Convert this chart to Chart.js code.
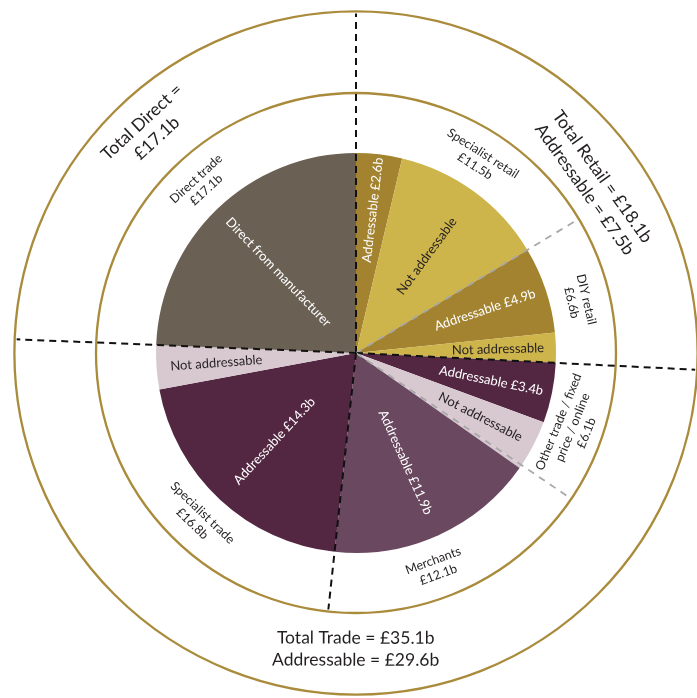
<!DOCTYPE html>
<html>
<head>
<meta charset="utf-8">
<script src="https://cdn.jsdelivr.net/npm/chart.js@4/dist/chart.umd.min.js"></script>
<style>
  html, body { margin: 0; padding: 0; background: #ffffff; }
  #wrap { width: 697px; height: 698px; }
</style>
</head>
<body>
<div id="wrap"><canvas id="c" width="697" height="698"></canvas></div>
<script>
// Market segments, clockwise from 12 o'clock (£bn)
const segmentNames = [['Specialist retail'], ['DIY retail'], ['Other trade / fixed', 'price / online'], ['Merchants'], ['Specialist trade'], ['Direct trade']];
const segmentTotals = [11.5, 6.6, 6.1, 12.1, 16.8, 17.1];

// Slices within each segment (£bn)
const sliceLabels = ['Addressable £2.6b', 'Not addressable', 'Addressable £4.9b', 'Not addressable', 'Addressable £3.4b', 'Not addressable', '', 'Addressable £11.9b', 'Addressable £14.3b', 'Not addressable', 'Direct from manufacturer'];
const sliceValues = [2.6, 8.9, 4.9, 1.7, 3.4, 2.7, 0.2, 11.9, 14.3, 2.5, 17.1];
const sliceSegment = [0, 0, 1, 1, 2, 2, 3, 3, 4, 4, 5];
const sliceKind = ['addr', 'not', 'addr', 'not', 'addr', 'not', 'not', 'addr', 'addr', 'not', 'direct'];

// Channel totals and the segments they cover
const channelLines = [['Total Retail = £18.1b', 'Addressable = £7.5b'], ['Total Trade = £35.1b', 'Addressable = £29.6b'], ['Total Direct =', '£17.1b']];
const channelSegments = [[0, 1], [2, 3, 4], [5]];

// ---- styling ----
const palette = [
  { addr: '#A3832F', not: '#CDB44B' },
  { addr: '#A3832F', not: '#CDB44B' },
  { addr: '#532742', not: '#D8C9D0' },
  { addr: '#6A4960', not: '#D8C9D0' },
  { addr: '#532742', not: '#D8C9D0' },
  { direct: '#6A6054' }
];
const sliceColors = sliceKind.map((k, i) => palette[sliceSegment[i]][k]);
const textDark = '#231F20';
const ringColor = '#A98B3B';
const FONT = 'Lato, "Open Sans", sans-serif';

const layout = {
  sliceRadius: [0.72, 0.6, 0.68, 0.71, 0.69, 0.7, 0, 0.6, 0.6, 0.7, 0.56],
  segRadius: 1.145,
  segAngleShift: [3, 1, 0.5, 4.5, -5.4, 1.3],
  segRotShift: [0, 0, 3, 0, 0, 0],
  chanRadius: [1.46, 1.48, 1.52],
  chanAngleShift: [8, -2.5, 1],
  innerRing: 1.3,
  outerRing: 1.708,
  // boundary at start of each segment: [colour, reach]
  boundaries: [['#111', 'outer'], ['#A8A8A8', 'inner'], ['#111', 'outer'], ['#A8A8A8', 'inner'], ['#111', 'inner'], ['#111', 'outer']]
};

function drawLines(ctx, lines, x, y, rot, font, color, lh) {
  ctx.save();
  ctx.translate(x, y);
  ctx.rotate(rot);
  ctx.font = font;
  ctx.fillStyle = color;
  ctx.textAlign = 'center';
  ctx.textBaseline = 'middle';
  const off = (lines.length - 1) * lh / 2;
  lines.forEach((t, i) => ctx.fillText(t, 0, i * lh - off));
  ctx.restore();
}

const annotate = {
  id: 'annotate',
  afterDatasetsDraw(chart) {
    const ctx = chart.ctx;
    const arcs = chart.getDatasetMeta(0).data;
    const cx = arcs[0].x, cy = arcs[0].y, R = arcs[0].outerRadius;
    const deg = Math.PI / 180;

    // rings
    ctx.save();
    ctx.strokeStyle = ringColor;
    ctx.lineWidth = 2.3;
    [layout.innerRing, layout.outerRing].forEach(f => {
      ctx.beginPath();
      ctx.arc(cx, cy, R * f, 0, Math.PI * 2);
      ctx.stroke();
    });
    ctx.restore();

    // segment boundaries
    const segFirst = [], segLast = [];
    sliceSegment.forEach((s, i) => { if (segFirst[s] === undefined) segFirst[s] = i; segLast[s] = i; });
    ctx.save();
    segFirst.forEach((i, s) => {
      const a = arcs[i].startAngle;
      const [col, reach] = layout.boundaries[s];
      const r = R * (reach === 'outer' ? layout.outerRing : layout.innerRing) - 2;
      ctx.strokeStyle = col;
      ctx.lineWidth = col === '#111' ? 2 : 1.8;
      ctx.setLineDash(col === '#111' ? [7, 5] : [7, 6]);
      ctx.beginPath();
      ctx.moveTo(cx, cy);
      ctx.lineTo(cx + r * Math.cos(a), cy + r * Math.sin(a));
      ctx.stroke();
    });
    ctx.restore();

    // slice labels, reading along the radius
    arcs.forEach((arc, i) => {
      if (!sliceLabels[i]) return;
      const a = (arc.startAngle + arc.endAngle) / 2;
      const r = R * layout.sliceRadius[i];
      const x = cx + r * Math.cos(a), y = cy + r * Math.sin(a);
      const theta = a + Math.PI / 2; // from 12 o'clock
      const rot = theta < Math.PI ? a : a + Math.PI;
      const col = sliceKind[i] === 'not' ? textDark : '#ffffff';
      drawLines(ctx, [sliceLabels[i]], x, y, rot, '13px ' + FONT, col, 15);
    });

    // segment labels, tangential
    segmentNames.forEach((lines, s) => {
      const a = (arcs[segFirst[s]].startAngle + arcs[segLast[s]].endAngle) / 2 + layout.segAngleShift[s] * deg;
      const r = R * layout.segRadius;
      const x = cx + r * Math.cos(a), y = cy + r * Math.sin(a);
      let theta = (a + Math.PI / 2) % (2 * Math.PI);
      const bottom = theta > Math.PI / 2 && theta < 1.5 * Math.PI;
      const rot = (bottom ? a - Math.PI / 2 : a + Math.PI / 2) + layout.segRotShift[s] * deg;
      const all = lines.concat(['£' + segmentTotals[s].toFixed(1).replace(/\.0$/, '') + 'b']);
      drawLines(ctx, all, x, y, rot, '12.5px ' + FONT, textDark, 15);
    });

    // channel totals
    channelLines.forEach((lines, c) => {
      const segs = channelSegments[c];
      const a0 = arcs[segFirst[segs[0]]].startAngle;
      const a1 = arcs[segLast[segs[segs.length - 1]]].endAngle;
      const a = (a0 + a1) / 2 + layout.chanAngleShift[c] * deg;
      const r = R * layout.chanRadius[c];
      const x = cx + r * Math.cos(a), y = cy + r * Math.sin(a);
      let theta = (a + Math.PI / 2) % (2 * Math.PI);
      const bottom = theta > Math.PI / 2 && theta < 1.5 * Math.PI;
      const rot = bottom ? a - Math.PI / 2 : a + Math.PI / 2;
      drawLines(ctx, lines, x, y, rot, '17.5px ' + FONT, textDark, 22);
    });
  }
};

new Chart(document.getElementById('c'), {
  type: 'pie',
  data: {
    labels: sliceLabels,
    datasets: [{
      data: sliceValues,
      backgroundColor: sliceColors,
      borderWidth: 0
    }]
  },
  options: {
    responsive: false,
    animation: false,
    layout: { padding: { left: 156, right: 141, top: 153, bottom: 145 } },
    plugins: { legend: { display: false }, tooltip: { enabled: false } }
  },
  plugins: [annotate]
});
</script>
</body>
</html>
